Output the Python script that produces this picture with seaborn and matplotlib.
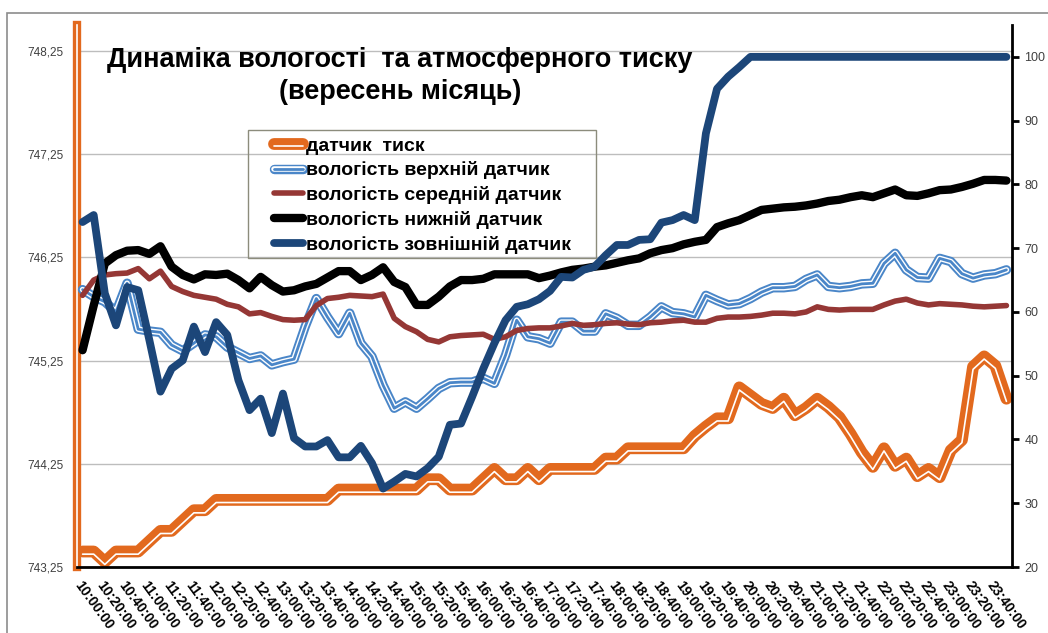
import numpy as np
import pandas as pd
import seaborn as sns
import matplotlib.pyplot as plt
import matplotlib.patheffects as pe
from matplotlib.lines import Line2D
from matplotlib.patches import Rectangle

# categories: every 10 minutes from 10:00 to 23:50
times = pd.date_range("2000-09-01 10:00", periods=84, freq="10min").strftime("%H:%M:%S").tolist()

pressure = [743.4, 743.4, 743.3, 743.4, 743.4, 743.4, 743.5, 743.6, 743.6, 743.7, 743.8, 743.8,
            743.9, 743.9, 743.9, 743.9, 743.9, 743.9, 743.9, 743.9, 743.9, 743.9, 743.9, 744.0,
            744.0, 744.0, 744.0, 744.0, 744.0, 744.0, 744.0, 744.1, 744.1, 744.0, 744.0, 744.0,
            744.1, 744.2, 744.1, 744.1, 744.2, 744.1, 744.2, 744.2, 744.2, 744.2, 744.2, 744.3,
            744.3, 744.4, 744.4, 744.4, 744.4, 744.4, 744.4, 744.52, 744.61, 744.69, 744.69, 744.99,
            744.91, 744.83, 744.79, 744.88, 744.72, 744.79, 744.88, 744.8, 744.7, 744.54, 744.36, 744.22,
            744.4, 744.23, 744.3, 744.13, 744.2, 744.12, 744.38, 744.48, 745.19, 745.29, 745.2, 744.88]

hum_top = [63.5, 62.4, 61.6, 60.0, 64.5, 57.3, 57.0, 56.8, 54.8, 53.9, 55.1, 56.4,
           56.1, 54.5, 53.6, 52.7, 53.1, 51.7, 52.2, 52.6, 57.7, 62.1, 59.2, 56.6,
           59.8, 55.1, 53.0, 48.5, 44.9, 45.9, 44.9, 46.4, 48.0, 48.9, 49.0, 49.0,
           49.6, 48.8, 53.2, 58.7, 56.1, 55.8, 55.1, 58.4, 58.4, 57.0, 57.0, 59.7,
           59.0, 57.9, 57.9, 59.2, 60.8, 59.9, 59.7, 59.2, 62.6, 61.8, 61.1, 61.3,
           62.1, 63.1, 63.8, 63.8, 64.0, 65.1, 65.8, 64.0, 63.8, 64.0, 64.4, 64.5,
           67.6, 69.2, 66.6, 65.4, 65.3, 68.4, 67.9, 66.0, 65.3, 65.8, 66.0, 66.6]

hum_mid = [62.6, 65.0, 65.8, 66.0, 66.1, 66.8, 65.2, 66.4, 64.0, 63.2, 62.6, 62.3,
           62.0, 61.2, 60.8, 59.7, 59.9, 59.3, 58.8, 58.7, 58.8, 61.0, 62.1, 62.3,
           62.6, 62.5, 62.4, 62.8, 59.0, 57.7, 56.9, 55.7, 55.3, 56.1, 56.3, 56.4,
           56.5, 55.7, 56.1, 57.1, 57.4, 57.5, 57.5, 57.8, 58.2, 57.9, 58.0, 58.2,
           58.3, 58.1, 58.0, 58.3, 58.4, 58.6, 58.7, 58.4, 58.4, 59.0, 59.2, 59.2,
           59.3, 59.5, 59.8, 59.8, 59.7, 60.0, 60.8, 60.4, 60.3, 60.4, 60.4, 60.4,
           61.1, 61.7, 62.0, 61.4, 61.1, 61.3, 61.2, 61.1, 60.9, 60.8, 60.9, 61.0]

hum_low = [54.0, 61.0, 67.6, 68.9, 69.6, 69.7, 69.1, 70.3, 67.1, 65.8, 65.1, 65.9,
           65.8, 66.0, 65.0, 63.7, 65.5, 64.2, 63.2, 63.4, 64.0, 64.4, 65.4, 66.4,
           66.4, 65.0, 65.8, 67.0, 64.7, 63.9, 61.1, 61.1, 62.4, 64.0, 65.0, 65.0,
           65.2, 65.9, 65.9, 65.9, 65.9, 65.3, 65.7, 66.2, 66.6, 66.8, 67.1, 67.3,
           67.7, 68.1, 68.4, 69.2, 69.7, 70.0, 70.6, 71.0, 71.3, 73.3, 73.9, 74.4,
           75.2, 76.0, 76.2, 76.4, 76.5, 76.7, 77.0, 77.4, 77.6, 78.0, 78.3, 78.0,
           78.6, 79.2, 78.3, 78.2, 78.6, 79.1, 79.2, 79.6, 80.1, 80.7, 80.7, 80.6]

hum_out = [74.1, 75.2, 62.9, 57.9, 63.9, 63.4, 55.6, 47.5, 51.1, 52.4, 57.7, 53.7,
           58.4, 56.4, 49.3, 44.6, 46.4, 41.0, 47.2, 40.2, 38.9, 38.9, 39.9, 37.2,
           37.2, 39.0, 36.3, 32.3, 33.4, 34.6, 34.2, 35.5, 37.3, 42.3, 42.5, 46.7,
           51.1, 55.1, 58.7, 60.8, 61.2, 62.0, 63.3, 65.5, 65.4, 66.6, 67.1, 68.9,
           70.5, 70.5, 71.3, 71.4, 74.0, 74.4, 75.2, 74.4, 88.0, 95.0, 96.9, 98.4,
           100, 100, 100, 100, 100, 100, 100, 100, 100, 100, 100, 100,
           100, 100, 100, 100, 100, 100, 100, 100, 100, 100, 100, 100]

labels = ["датчик  тиск", "вологість верхній датчик", "вологість середній датчик",
          "вологість нижній датчик", "вологість зовнішній датчик"]
left_ticks = [743.25, 744.25, 745.25, 746.25, 747.25, 748.25]
right_ticks = [20, 30, 40, 50, 60, 70, 80, 90, 100]

c_orange = "#E2691E"
c_light = "#4A86C8"
c_red = "#953735"
c_black = "#000000"
c_dark = "#1C4679"

sns.set_style("white")
plt.rcParams["font.family"] = ["Liberation Sans", "DejaVu Sans"]
plt.rcParams["text.color"] = "black"

idx = np.arange(len(times))
df = pd.DataFrame({"i": idx, "p": pressure, "top": hum_top, "mid": hum_mid,
                   "low": hum_low, "out": hum_out})

fig = plt.figure(figsize=(10.48, 6.33), dpi=100)
ax = fig.add_axes([77/1048, 66/633, 935/1048, 542/633])
ax2 = ax.twinx()

pe_orange = [pe.Stroke(linewidth=8.5, foreground=c_orange),
             pe.Stroke(linewidth=1.2, foreground="white", offset=(0, -1.9))]
pe_light = [pe.Stroke(linewidth=6.8, foreground=c_light),
            pe.Stroke(linewidth=4.0, foreground="white"),
            pe.Stroke(linewidth=2.0, foreground=c_light)]

line_kw = dict(solid_joinstyle="round", solid_capstyle="round")
sns.lineplot(data=df, x="i", y="p", ax=ax, color=c_orange, lw=8.5, path_effects=pe_orange, **line_kw)
sns.lineplot(data=df, x="i", y="top", ax=ax2, color=c_light, lw=6.8, path_effects=pe_light, **line_kw)
sns.lineplot(data=df, x="i", y="mid", ax=ax2, color=c_red, lw=4, **line_kw)
sns.lineplot(data=df, x="i", y="low", ax=ax2, color=c_black, lw=6, **line_kw)
sns.lineplot(data=df, x="i", y="out", ax=ax2, color=c_dark, lw=5.6, **line_kw)

ax.set_xlim(-0.5, len(times) - 0.5)
ax.set_ylim(743.25, 748.5)
ax2.set_ylim(20, 105)
ax.set_xlabel("")
ax.set_ylabel("")
ax2.set_ylabel("")

# x axis: labels every 20 min, tick marks on category boundaries
ax.set_xticks(idx[::2])
ax.set_xticklabels(times[::2], rotation=-54, ha="left", va="top", rotation_mode="anchor",
                   fontsize=10, fontweight="bold", color="black")
ax.set_xticks(np.arange(-0.5, len(times), 1), minor=True)
ax.tick_params(axis="x", which="major", length=0, pad=8)
ax.tick_params(axis="x", which="minor", length=5, width=1.5, color="black", direction="out")

ax.set_yticks(left_ticks)
ax.set_yticklabels([f"{v:.2f}".replace(".", ",") for v in left_ticks])
ax.tick_params(axis="y", length=0, pad=10, labelsize=8.5, labelcolor="#404040")
ax.grid(axis="y", color="#BDBDBD", lw=1)
ax.grid(axis="x", visible=False)

ax2.set_yticks(right_ticks)
ax2.tick_params(axis="y", length=5, width=2, color="black", direction="out", pad=4,
                labelsize=9, labelcolor="#404040")

for s in ["top", "right"]:
    ax.spines[s].set_visible(False)
for s in ["top", "left", "bottom"]:
    ax2.spines[s].set_visible(False)
ax.spines["bottom"].set_color("black")
ax.spines["bottom"].set_linewidth(2)
ax2.spines["right"].set_color("black")
ax2.spines["right"].set_linewidth(2)
ax.spines["left"].set_color(c_orange)
ax.spines["left"].set_linewidth(6)
ax.spines["left"].set_path_effects([pe.Stroke(linewidth=6, foreground=c_orange),
                                    pe.Stroke(linewidth=1.2, foreground="white")])

fig.text(400/1048, 1 - 76/633, "Динаміка вологості  та атмосферного тиску\n(вересень місяць)",
         ha="center", va="center", fontsize=19.5, fontweight="bold", linespacing=1.3,
         color="black")

handles = [Line2D([], [], color=c_orange, lw=8.5, path_effects=pe_orange, **line_kw),
           Line2D([], [], color=c_light, lw=6.8, path_effects=pe_light, **line_kw),
           Line2D([], [], color=c_red, lw=4, **line_kw),
           Line2D([], [], color=c_black, lw=6, **line_kw),
           Line2D([], [], color=c_dark, lw=5.6, **line_kw)]
leg = ax2.legend(handles=handles, labels=labels, loc="upper left",
                 bbox_to_anchor=(274/1048, 1 - 137/633), bbox_transform=fig.transFigure,
                 frameon=False, borderpad=0, borderaxespad=0, handlelength=1.5,
                 handletextpad=0.15, labelspacing=0.35,
                 prop={"family": "Liberation Sans", "weight": "bold", "size": 14})
for t in leg.get_texts():
    t.set_color("black")
fig.add_artist(Rectangle((248/1048, 1 - 258/633), 348/1048, 128/633, transform=fig.transFigure,
                         fill=False, ec="#8C8C7C", lw=1))

# chart border
fig.add_artist(Rectangle((7/1048, -0.01), 1.0, 1 - 13/633 + 0.01, transform=fig.transFigure,
                         fill=False, ec="#8C8C8C", lw=1.2))

fig.savefig("out.png", dpi=100)
